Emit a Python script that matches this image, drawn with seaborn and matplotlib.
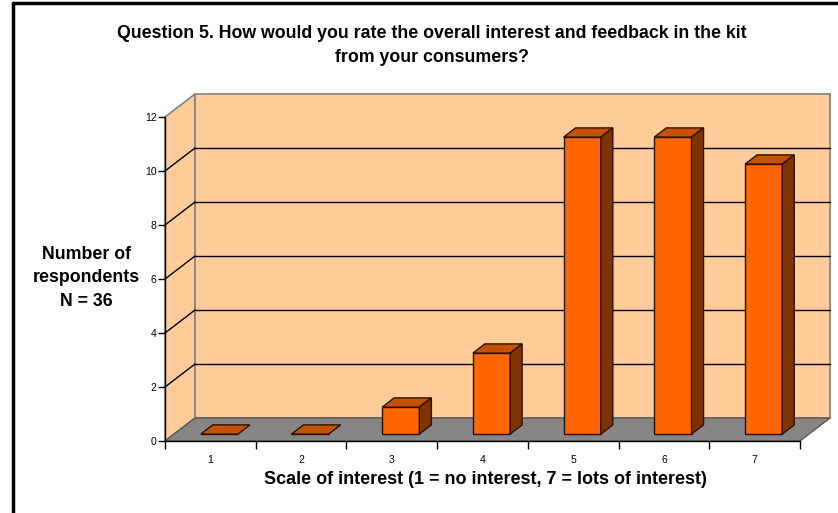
import matplotlib
matplotlib.use("Agg")
import matplotlib.pyplot as plt
from matplotlib.patches import Polygon
from matplotlib.lines import Line2D
import seaborn as sns
import pandas as pd

# Survey responses: rating of interest (1-7) and number of respondents
categories = ["1", "2", "3", "4", "5", "6", "7"]
counts = [0, 0, 1, 3, 11, 11, 10]
y_ticks = [0, 2, 4, 6, 8, 10, 12]
title = ("Question 5. How would you rate the overall interest and feedback in the kit\n"
         "from your consumers?")
x_label = "Scale of interest (1 = no interest, 7 = lots of interest)"

sns.set_style("white")
plt.rcParams["font.family"] = ["Liberation Sans", "DejaVu Sans"]
plt.rcParams["text.color"] = "black"
plt.rcParams["xtick.color"] = "black"
plt.rcParams["ytick.color"] = "black"
plt.rcParams["xtick.labelcolor"] = "black"
plt.rcParams["ytick.labelcolor"] = "black"

W, H = 838, 513
fig = plt.figure(figsize=(W / 100, H / 100), dpi=100)
fig.patch.set_facecolor("white")

# front plane of the 3-D box in pixels
fx0, fx1, fy0, fy1 = 165, 800, 441, 117
ax = fig.add_axes([fx0 / W, 1 - fy0 / H, (fx1 - fx0) / W, (fy0 - fy1) / H])
ax.set_facecolor("none")

xmin, xmax = -0.5, len(categories) - 0.5
ymin, ymax = 0, 12
ax.set_xlim(xmin, xmax)
ax.set_ylim(ymin, ymax)

# depth of the box, converted to data units
px_x = (fx1 - fx0) / (xmax - xmin)
px_y = (fy0 - fy1) / (ymax - ymin)
DX, DY = 30 / px_x, 23 / px_y

wall = "#FFCC99"
wall_edge = "#808080"
floor_c = "#868686"

# side wall, back wall and floor
ax.add_patch(Polygon([(xmin, 0), (xmin, ymax), (xmin + DX, ymax + DY), (xmin + DX, DY)],
                     closed=True, facecolor=wall, edgecolor=wall_edge, lw=1.2,
                     zorder=0, clip_on=False))
ax.add_patch(Polygon([(xmin + DX, DY), (xmin + DX, ymax + DY), (xmax + DX, ymax + DY), (xmax + DX, DY)],
                     closed=True, facecolor=wall, edgecolor=wall_edge, lw=1.2,
                     zorder=0, clip_on=False))
ax.add_patch(Polygon([(xmin, 0), (xmax, 0), (xmax + DX, DY), (xmin + DX, DY)],
                     closed=True, facecolor=floor_c, edgecolor="#5a5a5a", lw=1.0,
                     zorder=0.5, clip_on=False))

# gridlines on back and side walls
for t in y_ticks[1:-1]:
    ax.plot([xmin + DX, xmax + DX], [t + DY, t + DY], color="black", lw=1.0,
            zorder=0.6, clip_on=False)
    ax.plot([xmin, xmin + DX], [t, t + DY], color="black", lw=1.0,
            zorder=0.6, clip_on=False)

# front faces of the bars
df = pd.DataFrame({"score": categories, "n": counts})
sns.barplot(data=df, x="score", y="n", ax=ax, color="#FF6600", saturation=1,
            width=0.41, edgecolor="#2a1000", linewidth=1.0, zorder=3)

top_c = "#C45200"
side_c = "#7F3300"
off = 0.3   # bars stand in the middle of the floor depth
depth = 0.4
bars = [p for p in ax.patches if not isinstance(p, Polygon)]
for bar in bars:
    x0 = bar.get_x() + off * DX
    w = bar.get_width()
    h = bar.get_height()
    b = off * DY
    bar.set_x(x0)
    bar.set_y(b)
    bx, by = depth * DX, depth * DY
    top = b + h
    ax.add_patch(Polygon([(x0, top), (x0 + w, top), (x0 + w + bx, top + by), (x0 + bx, top + by)],
                         closed=True, facecolor=top_c, edgecolor="#2a1000", lw=1.0,
                         zorder=3, clip_on=False))
    if h > 0:
        ax.add_patch(Polygon([(x0 + w, b), (x0 + w, top), (x0 + w + bx, top + by), (x0 + w + bx, b + by)],
                             closed=True, facecolor=side_c, edgecolor="#2a1000", lw=1.0,
                             zorder=3, clip_on=False))

# axes: front spines with outward ticks
for s in ["top", "right"]:
    ax.spines[s].set_visible(False)
for s in ["left", "bottom"]:
    ax.spines[s].set_color("black")
    ax.spines[s].set_linewidth(1.0)
    ax.spines[s].set_zorder(4)

ax.set_yticks(y_ticks)
ax.set_yticklabels([str(t) for t in y_ticks], fontsize=7.5)
ax.tick_params(axis="y", direction="out", length=5, width=1, color="black", pad=1, left=True)

ax.set_xticks([i - 0.5 for i in range(len(categories) + 1)])
ax.set_xticklabels([""] * (len(categories) + 1))
ax.set_xticks(range(len(categories)), minor=True)
ax.set_xticklabels(categories, minor=True, fontsize=7.5)
ax.tick_params(axis="x", which="major", direction="out", length=6, width=1, color="black", bottom=True)
ax.tick_params(axis="x", which="minor", length=0, pad=10)
ax.set_xlabel("")
ax.set_ylabel("")

# titles and labels
fig.text(432 / W, 1 - 34 / H, title.split("\n")[0], ha="center", va="center",
         fontsize=12.8, fontweight="bold")
fig.text(432 / W, 1 - 58 / H, title.split("\n")[1], ha="center", va="center",
         fontsize=12.8, fontweight="bold")
for i, line in enumerate(["Number of", "respondents", f"N = {sum(counts)}"]):
    fig.text(86 / W, 1 - (255 + 23 * i) / H, line, ha="center", va="center",
             fontsize=12.8, fontweight="bold")
fig.text(485 / W, 1 - 479 / H, x_label, ha="center", va="center", fontsize=13,
         fontweight="bold")

# frame around the chart area
fig.add_artist(Line2D([12.5 / W, 1], [1 - 3 / H, 1 - 3 / H], color="black", lw=2.5,
                      transform=fig.transFigure))
fig.add_artist(Line2D([12.5 / W, 12.5 / W], [0, 1 - 3 / H], color="black", lw=2.5,
                      transform=fig.transFigure))

fig.savefig("out.png", dpi=100)
